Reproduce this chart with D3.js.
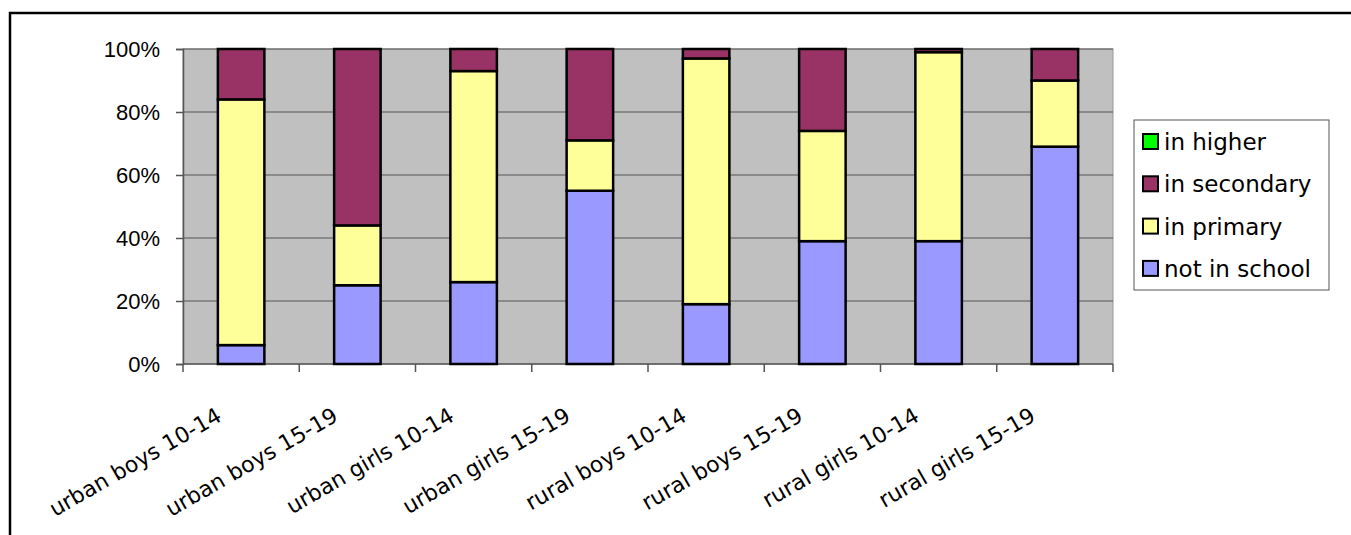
<!DOCTYPE html>
<html>
<head>
<meta charset="utf-8">
<script src="https://cdn.jsdelivr.net/npm/d3@7"></script>
<style>
  body { margin: 0; background: #fff; }
  svg { display: block; }
  .ytick text { font-family: "Liberation Sans", Arial, sans-serif; font-size: 22px; fill: #000; }
  .xlab { font-family: "DejaVu Sans", sans-serif; font-size: 22px; fill: #000; }
  .legend text { font-family: "DejaVu Sans", sans-serif; font-size: 23px; fill: #000; }
</style>
</head>
<body>
<svg id="chart"></svg>
<script>
// Chart values (percent of each group).
const categories  = [ 'urban boys 10-14', 'urban boys 15-19', 'urban girls 10-14', 'urban girls 15-19',
                      'rural boys 10-14', 'rural boys 15-19', 'rural girls 10-14', 'rural girls 15-19' ];
const notInSchool = [ 6, 25, 26, 55, 19, 39, 39, 69 ];
const inPrimary   = [ 78, 19, 67, 16, 78, 35, 60, 21 ];
const inSecondary = [ 16, 56, 7, 29, 3, 26, 1, 10 ];
const inHigher    = [ 0, 0, 0, 0, 0, 0, 0, 0 ];
const yTicks      = [ 0, 20, 40, 60, 80, 100 ];

const seriesKeys   = [ 'not in school', 'in primary', 'in secondary', 'in higher' ];
const seriesColors = { 'not in school': '#9999FF', 'in primary': '#FFFF99', 'in secondary': '#993366', 'in higher': '#00FF00' };

const width  = 1351;
const height = 535;
const plot   = { left: 183, top: 49, right: 1113, bottom: 364 };

const rows = categories.map( ( c, i ) => ( {
  cat: c,
  'not in school': notInSchool[i],
  'in primary'   : inPrimary[i],
  'in secondary' : inSecondary[i],
  'in higher'    : inHigher[i]
} ) );

const svg = d3.select( '#chart' ).attr( 'width', width ).attr( 'height', height );

// Outer chart frame (only top and left visible).
svg.append( 'path' )
  .attr( 'd', `M10,${height} V13 H${width}` )
  .attr( 'fill', 'none' )
  .attr( 'stroke', '#000' )
  .attr( 'stroke-width', 2.5 );

const x = d3.scaleBand( )
  .domain( categories )
  .range( [ plot.left, plot.right ] )
  .paddingInner( 0.6 )
  .paddingOuter( 0.3 );

const y = d3.scaleLinear( )
  .domain( [ 0, 100 ] )
  .range( [ plot.bottom, plot.top ] );

// Plot background.
svg.append( 'rect' )
  .attr( 'x', plot.left ).attr( 'y', plot.top )
  .attr( 'width', plot.right - plot.left ).attr( 'height', plot.bottom - plot.top )
  .attr( 'fill', '#C0C0C0' )
  .attr( 'stroke', '#999' ).attr( 'stroke-width', 1 );

// Gridlines.
svg.append( 'g' )
  .selectAll( 'line' )
  .data( yTicks.filter( t => t > 0 ) )
  .enter( ).append( 'line' )
    .attr( 'x1', plot.left ).attr( 'x2', plot.right )
    .attr( 'y1', d => y( d ) ).attr( 'y2', d => y( d ) )
    .attr( 'stroke', '#555' ).attr( 'stroke-width', 1 );

// Y axis.
const yAxis = svg.append( 'g' )
  .attr( 'class', 'ytick' )
  .attr( 'transform', `translate(${plot.left},0)` )
  .call( d3.axisLeft( y ).tickValues( yTicks ).tickFormat( d => d + '%' ).tickSize( 7 ).tickPadding( 16 ) );
yAxis.select( '.domain' ).attr( 'stroke', '#555' ).attr( 'stroke-width', 1.5 );
yAxis.selectAll( '.tick line' ).attr( 'stroke', '#555' ).attr( 'stroke-width', 1.5 );
yAxis.selectAll( 'text' ).attr( 'dy', '0.36em' );

// X axis line and ticks between categories.
const xTicks = d3.range( categories.length + 1 ).map( i => plot.left + i * ( plot.right - plot.left ) / categories.length );
svg.append( 'line' )
  .attr( 'x1', plot.left ).attr( 'x2', plot.right )
  .attr( 'y1', plot.bottom ).attr( 'y2', plot.bottom )
  .attr( 'stroke', '#555' ).attr( 'stroke-width', 1.5 );
svg.append( 'g' )
  .selectAll( 'line' )
  .data( xTicks )
  .enter( ).append( 'line' )
    .attr( 'x1', d => d ).attr( 'x2', d => d )
    .attr( 'y1', plot.bottom ).attr( 'y2', plot.bottom + 8 )
    .attr( 'stroke', '#555' ).attr( 'stroke-width', 1.5 );

// Stacked bars.
const stacked = d3.stack( ).keys( seriesKeys )( rows );

svg.append( 'g' )
  .selectAll( 'g' )
  .data( stacked )
  .enter( ).append( 'g' )
    .attr( 'fill', d => seriesColors[ d.key ] )
  .selectAll( 'rect' )
  .data( d => d.filter( s => s[1] - s[0] > 0 ) )
  .enter( ).append( 'rect' )
    .attr( 'x', d => x( d.data.cat ) )
    .attr( 'y', d => y( d[1] ) )
    .attr( 'width', x.bandwidth( ) )
    .attr( 'height', d => y( d[0] ) - y( d[1] ) )
    .attr( 'stroke', '#000' )
    .attr( 'stroke-width', 2.5 );

// Category labels, rotated.
svg.append( 'g' )
  .selectAll( 'text' )
  .data( categories )
  .enter( ).append( 'text' )
    .attr( 'class', 'xlab' )
    .attr( 'text-anchor', 'end' )
    .attr( 'transform', d => `translate(${x( d ) + x.bandwidth( ) / 2 - 18},${plot.bottom + 56}) rotate(-30)` )
    .text( d => d );

// Legend.
const legendItems = [ 'in higher', 'in secondary', 'in primary', 'not in school' ];
const legend = svg.append( 'g' ).attr( 'class', 'legend' );
legend.append( 'rect' )
  .attr( 'x', 1134 ).attr( 'y', 120 )
  .attr( 'width', 195 ).attr( 'height', 170 )
  .attr( 'fill', '#fff' )
  .attr( 'stroke', '#555' ).attr( 'stroke-width', 1 );

const li = legend.selectAll( 'g.item' )
  .data( legendItems )
  .enter( ).append( 'g' )
    .attr( 'class', 'item' )
    .attr( 'transform', ( d, i ) => `translate(1143,${142 + i * 42.3})` );
li.append( 'rect' )
  .attr( 'x', 0 ).attr( 'y', -8 )
  .attr( 'width', 15 ).attr( 'height', 15 )
  .attr( 'fill', d => seriesColors[ d ] )
  .attr( 'stroke', '#000' ).attr( 'stroke-width', 2 );
li.append( 'text' )
  .attr( 'x', 21 )
  .attr( 'dy', '0.35em' )
  .text( d => d );
</script>
</body>
</html>
